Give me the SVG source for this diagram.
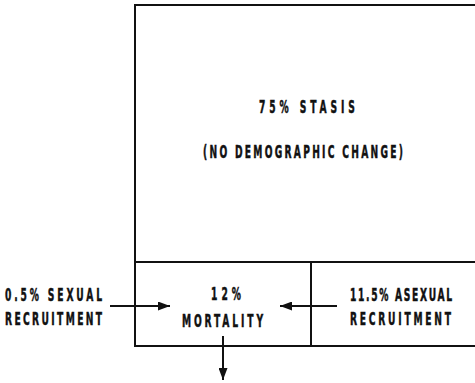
<svg xmlns="http://www.w3.org/2000/svg" width="475" height="383" viewBox="0 0 475 383">
<style>
.ln{stroke:#111;stroke-width:2;fill:none}
.t{font-family:"DejaVu Sans Condensed","DejaVu Sans",sans-serif;font-weight:bold;font-size:18.5px;fill:#111;stroke:#111;stroke-width:0.5}
</style>
<defs>
<marker id="ah" viewBox="0 0 12 9" refX="12" refY="4.5" markerWidth="12" markerHeight="9" markerUnits="userSpaceOnUse" orient="auto">
<path d="M0,0 L12,4.5 L0,9 Z" fill="#111"/>
</marker>
</defs>
<rect width="475" height="383" fill="#fff"/>
<g id="stasis">
<path class="ln" d="M475,5 H135 V262 H475"/>
<g transform="scale(0.55,1)">
<text class="t" x="470.9" y="113" textLength="174.5" lengthAdjust="spacing">75% STASIS</text>
<text class="t" x="369.1" y="158" textLength="363.6" lengthAdjust="spacing">(NO DEMOGRAPHIC CHANGE)</text>
</g>
</g>
<g id="mortality">
<path class="ln" d="M135,262 V346 H475 M311,262 V346"/>
<g transform="scale(0.55,1)">
<text class="t" x="383.6" y="300" textLength="54.5" lengthAdjust="spacing">12%</text>
<text class="t" x="330.9" y="327" textLength="147.3" lengthAdjust="spacing">MORTALITY</text>
</g>
</g>
<g id="sexual">
<g transform="scale(0.55,1)">
<text class="t" x="9.1" y="301" textLength="176.4" lengthAdjust="spacing">0.5% SEXUAL</text>
<text class="t" x="9.1" y="325" textLength="176.4" lengthAdjust="spacing">RECRUITMENT</text>
</g>
</g>
<g id="asexual">
<g transform="scale(0.55,1)">
<text class="t" x="636.4" y="301" textLength="185.5" lengthAdjust="spacing">11.5% ASEXUAL</text>
<text class="t" x="636.4" y="325" textLength="183.6" lengthAdjust="spacing">RECRUITMENT</text>
</g>
</g>
<g id="connectors">
<line class="ln" x1="110" y1="306" x2="170" y2="306" marker-end="url(#ah)"/>
<line class="ln" x1="337" y1="306" x2="280" y2="306" marker-end="url(#ah)"/>
<line class="ln" x1="223" y1="336" x2="223" y2="380" marker-end="url(#ah)"/>
</g>
</svg>
